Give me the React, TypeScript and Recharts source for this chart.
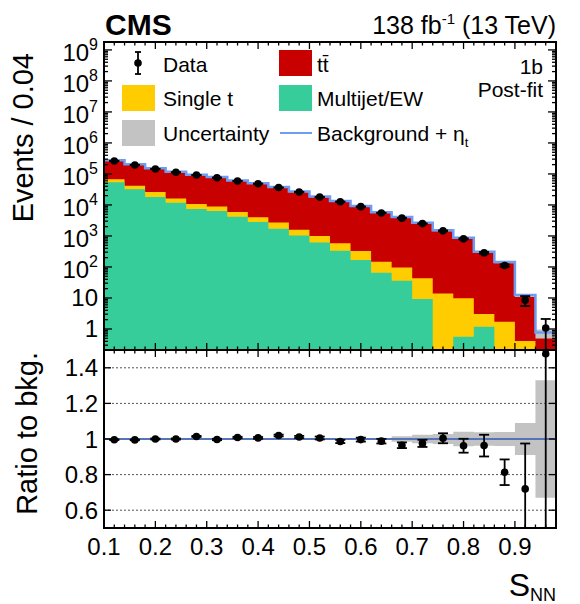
import React from "react";
import {
  Area,
  ComposedChart,
  ErrorBar,
  Line,
  ReferenceLine,
  Scatter,
  XAxis,
  YAxis,
} from "recharts";

// S_NN bins, width 0.04
const binEdges = [
  0.1, 0.14, 0.18, 0.22, 0.26, 0.3, 0.34, 0.38, 0.42, 0.46, 0.5, 0.54, 0.58,
  0.62, 0.66, 0.7, 0.74, 0.78, 0.82, 0.86, 0.9, 0.94, 0.98,
];

// post-fit yields per bin (events / 0.04)
const multijet = [
  5.4e4, 3.2e4, 1.8e4, 1.18e4, 7.4e3, 6.4e3, 4.2e3, 2.8e3, 1.7e3, 1.03e3, 610,
  335, 168, 65, 36, 9.3, 0, 0.56, 1.19, 0, 0, 0,
];
const singleTop = [
  1.3e4, 1.0e4, 8.0e3, 4.2e3, 3.3e3, 2.5e3, 1.7e3, 1.2e3, 1.0e3, 570, 390, 245,
  162, 83, 61, 33.7, 14, 9.2, 1.86, 1.72, 0.41, 0,
];
const ttbar = [
  1.96e5, 1.53e5, 1.19e5, 9.7e4, 8.0e4, 6.7e4, 5.3e4, 4.4e4, 3.3e4, 2.44e4,
  1.68e4, 1.23e4, 8.5e3, 5.45e3, 3.8e3, 2.52e3, 1.44e3, 830, 294, 136, 11.4,
  0.73,
];
const bkgPlusEta = [
  2.75e5, 2.05e5, 1.52e5, 1.18e5, 9.5e4, 8.0e4, 6.2e4, 5.0e4, 3.8e4, 2.72e4,
  1.86e4, 1.35e4, 9.2e3, 5.85e3, 4.1e3, 2.68e3, 1.52e3, 880, 310, 145, 12.4,
  0.77,
];
const dataEvents = [
  2.62e5, 1.94e5, 1.45e5, 1.13e5, 9.2e4, 7.57e4, 5.94e4, 4.83e4, 3.64e4,
  2.63e4, 1.79e4, 1.27e4, 8.8e3, 5.53e3, 3.76e3, 2.5e3, 1.46e3, 808, 286, 112,
  8.5, 1.08,
];
// data errors, relative to the background
const dataErrLow = [
  0.002, 0.002, 0.003, 0.003, 0.003, 0.004, 0.004, 0.005, 0.005, 0.006, 0.008,
  0.009, 0.011, 0.013, 0.016, 0.02, 0.028, 0.039, 0.061, 0.072, 0.255, 1.25,
];
const dataErrHigh = [
  0.002, 0.002, 0.003, 0.003, 0.003, 0.004, 0.004, 0.005, 0.005, 0.006, 0.008,
  0.009, 0.011, 0.013, 0.016, 0.02, 0.028, 0.039, 0.061, 0.072, 0.255, 1.4,
];
// relative background uncertainty
const bkgUnc = [
  0.002, 0.002, 0.002, 0.002, 0.002, 0.002, 0.002, 0.003, 0.003, 0.003, 0.004,
  0.004, 0.005, 0.006, 0.015, 0.024, 0.028, 0.041, 0.038, 0.04, 0.09, 0.33,
];

const xMajorTicks = [0.1, 0.2, 0.3, 0.4, 0.5, 0.6, 0.7, 0.8, 0.9];
const yLogMajorTicks = [1, 10, 1e2, 1e3, 1e4, 1e5, 1e6, 1e7, 1e8, 1e9];
const ratioTicks = [0.6, 0.8, 1, 1.2, 1.4];
const ratioTickLabels = ["0.6", "0.8", "1", "1.2", "1.4"];

const X_DOMAIN = [0.1, 0.98];
const Y_DOMAIN = [0.21, 1.8e9];
const R_DOMAIN = [0.5, 1.5];

// layout (page pixels)
const PLOT_L = 104;
const PLOT_R = 556;
const UP_T = 42;
const UP_B = 350;
const LO_B = 528;
const FONT = '"Liberation Sans", Arial, Helvetica, sans-serif';

const RED = "#c90000";
const YELLOW = "#ffcc00";
const GREEN = "#36cd9a";
const GREY = "#c3c3c3";
const BLUE = "#6e9cf2";
const BLUE_RATIO = "#5473b8";

const nBins = multijet.length;
const FLOOR = 1e-3;
const total = multijet.map((m, i) => m + singleTop[i] + ttbar[i]);

const xAllTicks = Array.from({ length: 45 }, (_, i) => Math.round((0.1 + i * 0.02) * 100) / 100);
const yLogAllTicks: number[] = [];
for (let e = -1; e <= 9; e++) {
  for (let k = 1; k <= 9; k++) {
    const v = k * Math.pow(10, e);
    if (v >= Y_DOMAIN[0] && v <= Y_DOMAIN[1]) yLogAllTicks.push(k === 1 ? Math.pow(10, e) : v);
  }
}

const upperRows = binEdges.map((x, i) => {
  const b = Math.min(i, nBins - 1);
  const green = multijet[b];
  const yellow = green + singleTop[b];
  const red = total[b];
  return {
    x,
    green: Math.max(green, FLOOR),
    yellow: Math.max(yellow, FLOOR),
    red: Math.max(red, FLOOR),
    eta: bkgPlusEta[b],
    band: [red * (1 - bkgUnc[b]), red * (1 + bkgUnc[b])],
  };
});

const ratioRows = binEdges.map((x, i) => {
  const b = Math.min(i, nBins - 1);
  return { x, band: [1 - bkgUnc[b], 1 + bkgUnc[b]] };
});

// error bars are not clipped by the plot area, so stop them at the frame
const clampErr = (y: number, lo: number, hi: number, dom: number[]) => [
  Math.min(lo, y - dom[0]),
  Math.min(hi, dom[1] - y),
];

const centers = dataEvents.map((_, i) => (binEdges[i] + binEdges[i + 1]) / 2);
const upperPoints = dataEvents.map((d, i) => ({
  x: centers[i],
  y: d,
  err: clampErr(d, dataErrLow[i] * total[i], dataErrHigh[i] * total[i], Y_DOMAIN),
}));
const ratioPoints = dataEvents.map((d, i) => {
  const r = d / total[i];
  return { x: centers[i], y: r, err: clampErr(r, dataErrLow[i], dataErrHigh[i], R_DOMAIN) };
});

const isXMajor = (v: number) => xMajorTicks.some((m) => Math.abs(m - v) < 1e-6);

function xTick(frameY: number, dir: 1 | -1, labels: boolean) {
  return (props: any) => {
    const x = props.x;
    const v = props.payload.value;
    const major = isXMajor(v);
    const len = major ? 7 : 3.5;
    return (
      <g>
        <line x1={x} x2={x} y1={frameY} y2={frameY + dir * len} stroke="#000" strokeWidth={1.3} />
        {labels && major && (
          <text x={x} y={555} textAnchor="middle" fontSize={24} fontFamily={FONT} fill="#000">
            {String(v)}
          </text>
        )}
      </g>
    );
  };
}

function logTick(frameX: number, dir: 1 | -1, labels: boolean) {
  return (props: any) => {
    const y = props.y;
    const v = props.payload.value;
    const major = yLogMajorTicks.includes(v);
    const len = major ? 8 : 4;
    const exp = Math.round(Math.log10(v));
    return (
      <g>
        <line x1={frameX} x2={frameX + dir * len} y1={y} y2={y} stroke="#000" strokeWidth={1.3} />
        {labels && major &&
          (exp <= 1 ? (
            <text x={98} y={y + 8.5} textAnchor="end" fontSize={24} fontFamily={FONT} fill="#000">
              {String(v)}
            </text>
          ) : (
            <text x={98} y={y + 11} textAnchor="end" fontSize={24} fontFamily={FONT} fill="#000">
              10
              <tspan dy={-11} fontSize={16}>
                {exp}
              </tspan>
            </text>
          ))}
      </g>
    );
  };
}

function ratioTick(frameX: number, dir: 1 | -1, labels: boolean) {
  return (props: any) => {
    const y = props.y;
    const i = ratioTicks.indexOf(props.payload.value);
    return (
      <g>
        <line x1={frameX} x2={frameX + dir * 7} y1={y} y2={y} stroke="#000" strokeWidth={1.3} />
        {labels && i >= 0 && (
          <text x={98} y={y + 8.5} textAnchor="end" fontSize={24} fontFamily={FONT} fill="#000">
            {ratioTickLabels[i]}
          </text>
        )}
      </g>
    );
  };
}

const dot = (p: any) => <circle cx={p.cx} cy={p.cy} r={3.8} fill="#000" />;

function UpperPanel() {
  return (
    <ComposedChart
      width={580}
      height={360}
      data={upperRows}
      margin={{ top: UP_T - 1, right: 580 - PLOT_R - 1, bottom: 360 - UP_B - 1, left: PLOT_L - 1 }}
    >
      <XAxis xAxisId="b" dataKey="x" type="number" domain={X_DOMAIN} allowDataOverflow height={1}
        ticks={xAllTicks} interval={0} axisLine={false} tickLine={false} tick={xTick(UP_B, -1, false)} />
      <XAxis xAxisId="t" orientation="top" dataKey="x" type="number" domain={X_DOMAIN} allowDataOverflow height={1}
        ticks={xAllTicks} interval={0} axisLine={false} tickLine={false} tick={xTick(UP_T, 1, false)} />
      <YAxis yAxisId="l" dataKey="y" scale="log" type="number" domain={Y_DOMAIN} allowDataOverflow width={1}
        ticks={yLogAllTicks} interval={0} axisLine={false} tickLine={false} tick={logTick(PLOT_L, 1, true)} />
      <YAxis yAxisId="r" orientation="right" scale="log" type="number" domain={Y_DOMAIN} allowDataOverflow width={1}
        ticks={yLogAllTicks} interval={0} axisLine={false} tickLine={false} tick={logTick(PLOT_R, -1, false)} />
      <Area xAxisId="b" yAxisId="l" type="stepAfter" dataKey="red" baseValue={Y_DOMAIN[0]}
        fill={RED} fillOpacity={1} stroke="none" isAnimationActive={false} />
      <Area xAxisId="b" yAxisId="l" type="stepAfter" dataKey="yellow" baseValue={Y_DOMAIN[0]}
        fill={YELLOW} fillOpacity={1} stroke="none" isAnimationActive={false} />
      <Area xAxisId="b" yAxisId="l" type="stepAfter" dataKey="green" baseValue={Y_DOMAIN[0]}
        fill={GREEN} fillOpacity={1} stroke="none" isAnimationActive={false} />
      <Area xAxisId="b" yAxisId="l" type="stepAfter" dataKey="band"
        fill={GREY} fillOpacity={1} stroke="none" isAnimationActive={false} />
      <Line xAxisId="b" yAxisId="l" type="stepAfter" dataKey="eta" stroke={BLUE} strokeWidth={2.5}
        dot={false} isAnimationActive={false} />
      <Scatter xAxisId="b" yAxisId="l" data={upperPoints} dataKey="y" shape={dot} isAnimationActive={false}>
        <ErrorBar dataKey="err" direction="y" width={5} stroke="#000" strokeWidth={1.8} />
      </Scatter>
    </ComposedChart>
  );
}

function RatioPanel() {
  return (
    <ComposedChart
      width={580}
      height={604}
      data={ratioRows}
      margin={{ top: UP_B - 1, right: 580 - PLOT_R - 1, bottom: 604 - LO_B - 1, left: PLOT_L - 1 }}
    >
      <XAxis xAxisId="b" dataKey="x" type="number" domain={X_DOMAIN} allowDataOverflow height={1}
        ticks={xAllTicks} interval={0} axisLine={false} tickLine={false} tick={xTick(LO_B, -1, true)} />
      <XAxis xAxisId="t" orientation="top" dataKey="x" type="number" domain={X_DOMAIN} allowDataOverflow height={1}
        ticks={xAllTicks} interval={0} axisLine={false} tickLine={false} tick={xTick(UP_B, 1, false)} />
      <YAxis yAxisId="l" dataKey="y" type="number" domain={R_DOMAIN} allowDataOverflow width={1}
        ticks={ratioTicks} interval={0} axisLine={false} tickLine={false} tick={ratioTick(PLOT_L, 1, true)} />
      <YAxis yAxisId="r" orientation="right" type="number" domain={R_DOMAIN} allowDataOverflow width={1}
        ticks={ratioTicks} interval={0} axisLine={false} tickLine={false} tick={ratioTick(PLOT_R, -1, false)} />
      {ratioTicks.filter((t) => t !== 1).map((t) => (
        <ReferenceLine key={t} xAxisId="b" yAxisId="l" y={t} stroke="#555" strokeWidth={1}
          strokeDasharray="2 2" />
      ))}
      <Area xAxisId="b" yAxisId="l" type="stepAfter" dataKey="band"
        fill={GREY} fillOpacity={1} stroke="none" isAnimationActive={false} />
      <ReferenceLine xAxisId="b" yAxisId="l" y={1} stroke={BLUE_RATIO} strokeWidth={2} />
      <Scatter xAxisId="b" yAxisId="l" data={ratioPoints} dataKey="y" shape={dot} isAnimationActive={false}>
        <ErrorBar dataKey="err" direction="y" width={5} stroke="#000" strokeWidth={1.8} />
      </Scatter>
    </ComposedChart>
  );
}

function Overlay() {
  const txt = { fontFamily: FONT, fill: "#000" };
  return (
    <svg width={580} height={604} style={{ position: "absolute", left: 0, top: 0 }}>
      {/* frames */}
      <rect x={PLOT_L} y={UP_T} width={PLOT_R - PLOT_L} height={UP_B - UP_T} fill="none" stroke="#000" strokeWidth={2} />
      <rect x={PLOT_L} y={UP_B} width={PLOT_R - PLOT_L} height={LO_B - UP_B} fill="none" stroke="#000" strokeWidth={2} />

      <text x={105} y={35} fontSize={30} fontWeight="bold" {...txt}>CMS</text>
      <text x={556} y={33.5} fontSize={25} textAnchor="end" {...txt}>
        138 fb<tspan dy={-10} fontSize={15}>-1</tspan>
        <tspan dy={10}> (13 TeV)</tspan>
      </text>

      <text transform="translate(33,53) rotate(-90)" fontSize={29} textAnchor="end" {...txt}>
        Events / 0.04
      </text>
      <text transform="translate(37,352) rotate(-90)" fontSize={29} textAnchor="end" {...txt}>
        Ratio to bkg.
      </text>
      <text x={556} y={596} fontSize={32} textAnchor="end" {...txt}>
        S<tspan dy={5} fontSize={18}>NN</tspan>
      </text>

      {/* legend */}
      <line x1={138} x2={138} y1={52} y2={74} stroke="#000" strokeWidth={1.8} />
      <line x1={135} x2={141} y1={52} y2={52} stroke="#000" strokeWidth={1.8} />
      <line x1={135} x2={141} y1={74} y2={74} stroke="#000" strokeWidth={1.8} />
      <circle cx={138} cy={63} r={3.8} fill="#000" />
      <text x={163} y={71.5} fontSize={21} {...txt}>Data</text>

      <rect x={279} y={50} width={33} height={26} fill={RED} />
      <text x={317} y={71.5} fontSize={21} {...txt}>t{"t\u0304"}</text>

      <rect x={122} y={85} width={33} height={26} fill={YELLOW} />
      <text x={163} y={106} fontSize={21} {...txt}>Single t</text>

      <rect x={279} y={85} width={33} height={26} fill={GREEN} />
      <text x={317} y={106} fontSize={21} {...txt}>Multijet/EW</text>

      <rect x={122} y={120} width={33} height={26} fill={GREY} />
      <text x={163} y={141} fontSize={21} {...txt}>Uncertainty</text>

      <line x1={280} x2={312} y1={133} y2={133} stroke={BLUE} strokeWidth={2} />
      <text x={317} y={141} fontSize={21} {...txt}>
        Background + η<tspan dy={6} fontSize={13}>t</tspan>
      </text>

      <text x={543} y={74} fontSize={21} textAnchor="end" {...txt}>1b</text>
      <text x={543} y={97} fontSize={21} textAnchor="end" {...txt}>Post-fit</text>
    </svg>
  );
}

export default function App() {
  return (
    <div style={{ position: "absolute", left: 0, top: 0, width: 580, height: 604, background: "#fff" }}>
      <div style={{ position: "absolute", left: 0, top: 0 }}>
        <UpperPanel />
      </div>
      <div style={{ position: "absolute", left: 0, top: 0 }}>
        <RatioPanel />
      </div>
      <Overlay />
    </div>
  );
}
